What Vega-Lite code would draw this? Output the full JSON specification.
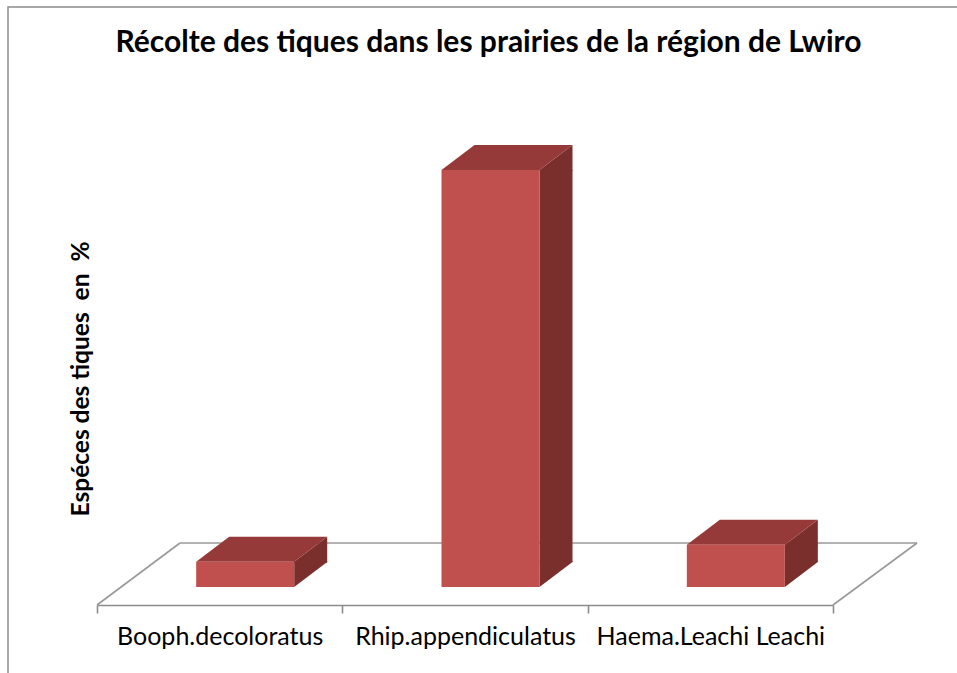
{
  "$schema": "https://vega.github.io/schema/vega-lite/v6.json",
  "width": 955,
  "height": 670,
  "autosize": "none",
  "padding": {"left": 8, "top": 7, "right": -6, "bottom": -4},
  "background": "white",
  "config": {
    "view": {"stroke": "#8C8C8C", "strokeWidth": 1.5},
    "font": "Lato",
    "axisY": {
      "offset": -80, "labels": false,
      "domain": false, "ticks": false, "grid": false,
      "titleFont": "Lato", "titleFontWeight": "bold", "titleFontSize": 24.5, "titleColor": "black",
      "titlePadding": 0, "titleBaseline": "alphabetic"
    }
  },
  "title": {
    "text": "Récolte des tiques dans les prairies de la région de Lwiro",
    "font": "Lato", "fontSize": 30, "fontWeight": "bold", "color": "black",
    "anchor": "middle", "frame": "group", "offset": 0, "baseline": "alphabetic", "dy": 75, "dx": 3
  },
  "data": {"values": [
    {"espece": "Booph.decoloratus", "pourcentage": 5.2},
    {"espece": "Rhip.appendiculatus", "pourcentage": 86.1},
    {"espece": "Haema.Leachi Leachi", "pourcentage": 8.7}
  ]},
  "layer": [
    {
      "layer": [
        {
          "data": {"values": [{}]},
          "mark": {"type": "rule", "color": "#999999", "strokeWidth": 1.6},
          "encoding": {
            "x": {"datum": 0, "type": "quantitative", "scale": {"domain": [0, 3], "range": [89, 825]}, "axis": null},
            "x2": {"datum": 0.3383},
            "y": {"datum": -3.717, "type": "quantitative", "title": "Espéces des tiques \u00a0en \u00a0%", "scale": {"domain": [0, 86.1], "range": [580, 163], "nice": false, "zero": false}},
            "y2": {"datum": 9.085}
          }
        },
        {
          "data": {"values": [{}]},
          "mark": {"type": "rule", "color": "#999999", "strokeWidth": 1.6},
          "encoding": {
            "x": {"datum": 0.3383, "type": "quantitative", "scale": {"domain": [0, 3], "range": [89, 825]}, "axis": null},
            "x2": {"datum": 3.3424},
            "y": {"datum": 9.085, "type": "quantitative", "title": "Espéces des tiques \u00a0en \u00a0%", "scale": {"domain": [0, 86.1], "range": [580, 163], "nice": false, "zero": false}},
            "y2": {"datum": 9.085}
          }
        },
        {
          "data": {"values": [{}]},
          "mark": {"type": "rule", "color": "#999999", "strokeWidth": 1.6},
          "encoding": {
            "x": {"datum": 3, "type": "quantitative", "scale": {"domain": [0, 3], "range": [89, 825]}, "axis": null},
            "x2": {"datum": 3.3424},
            "y": {"datum": -3.717, "type": "quantitative", "title": "Espéces des tiques \u00a0en \u00a0%", "scale": {"domain": [0, 86.1], "range": [580, 163], "nice": false, "zero": false}},
            "y2": {"datum": 9.085}
          }
        }
      ]
    },
    {
      "encoding": {
        "x": {
          "field": "espece", "type": "nominal", "sort": null,
          "scale": {"range": [89, 825], "paddingInner": 0, "paddingOuter": 0},
          "axis": {
            "title": null, "orient": "bottom", "offset": -72, "tickBand": "extent",
            "domainColor": "#8C8C8C", "domainWidth": 1.6, "tickColor": "#8C8C8C", "tickWidth": 1.6, "tickSize": 8,
            "labelFont": "Lato", "labelFontSize": 25, "labelColor": "black", "labelPadding": 11, "labelAngle": 0,
            "labelLimit": 0, "labelOverlap": false, "grid": false
          }
        },
        "y": {
          "field": "pourcentage", "type": "quantitative", "title": "Espéces des tiques \u00a0en \u00a0%",
          "scale": {"domain": [0, 86.1], "range": [580, 163], "nice": false, "zero": false}
        }
      },
      "layer": [
        {
          "mark": {"type": "bar", "width": 33, "xOffset": 91, "y2Offset": -25, "color": "#7B2F2D"},
          "encoding": {"y2": {"datum": 0}}
        },
        {
          "mark": {"type": "point", "shape": "M0,1L0,0L33,-25L33,1Z", "size": 4, "filled": true, "opacity": 1, "fill": "#7B2F2D", "strokeWidth": 0, "xOffset": 74.5}
        },
        {
          "mark": {"type": "point", "shape": "M0,0L0,-26L33,-26L33,-25Z", "size": 4, "filled": true, "opacity": 1, "fill": "#7B2F2D", "strokeWidth": 0, "xOffset": 74.5},
          "encoding": {"y": {"datum": 0, "type": "quantitative", "title": "Espéces des tiques \u00a0en \u00a0%"}}
        },
        {
          "mark": {"type": "point", "shape": "M0,0L-98,0L-65,-25L33,-25Z", "size": 4, "filled": true, "opacity": 1, "fill": "#953A38", "strokeWidth": 0, "xOffset": 74.5}
        },
        {
          "mark": {"type": "bar", "width": 98, "xOffset": 25.5, "color": "#C0504D"},
          "encoding": {"y2": {"datum": 0}}
        }
      ]
    }
  ],
  "resolve": {"scale": {"x": "independent"}, "axis": {"x": "independent"}}
}
